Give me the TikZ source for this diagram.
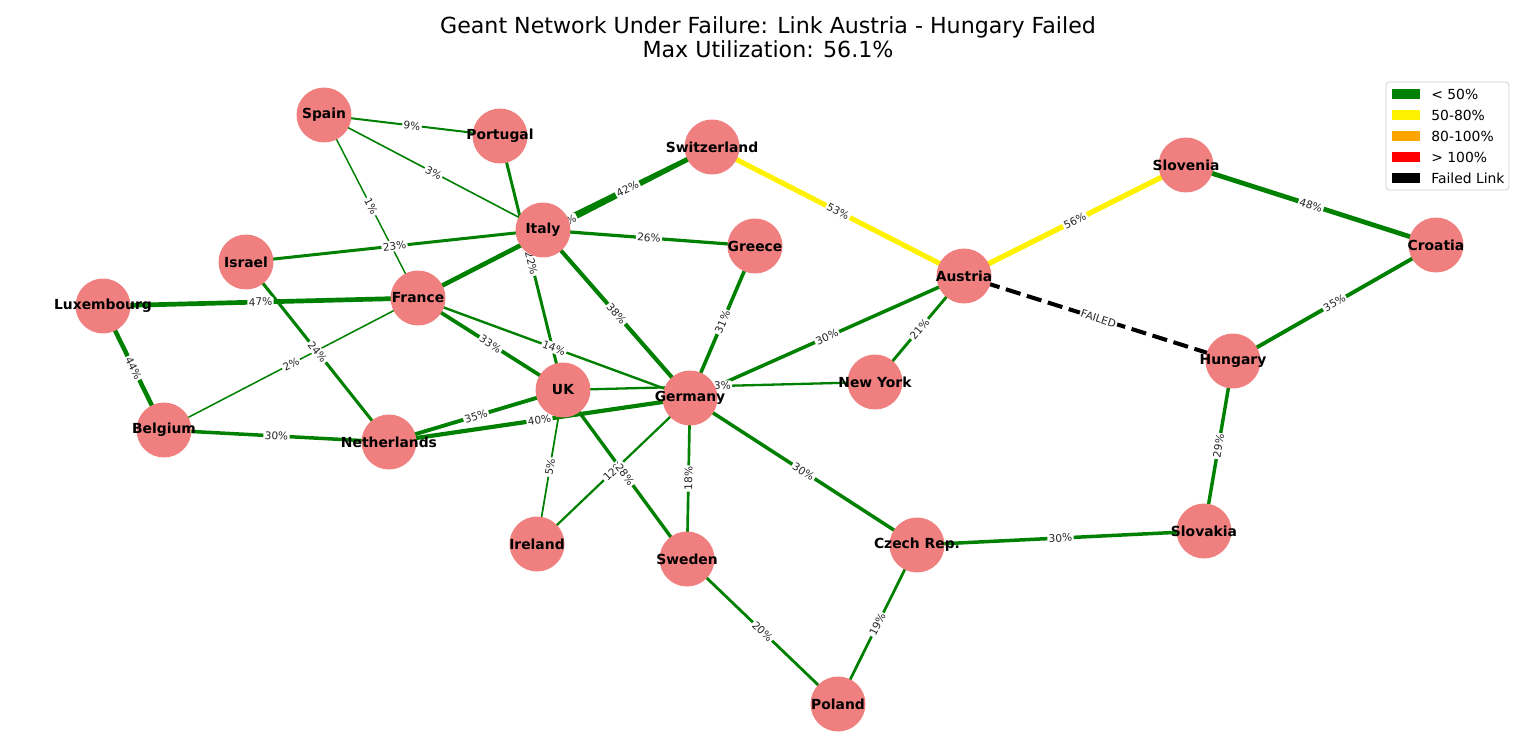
\documentclass[tikz,border=0pt]{standalone}
\usepackage{fontspec}
\setmainfont{DejaVu Sans}

\definecolor{lcoral}{HTML}{F08080}
\definecolor{okgreen}{HTML}{008000}
\definecolor{warnorange}{HTML}{FFA500}

\pgfdeclarelayer{edges}
\pgfdeclarelayer{elabels}
\pgfsetlayers{edges,elabels,main}

% from/to/utilisation/colour
\def\geantlinks{spain/portugal/9/okgreen, spain/italy/3/okgreen, spain/france/1/okgreen,
  portugal/uk/22/okgreen, france/switz/45/okgreen, italy/switz/42/okgreen,
  israel/italy/23/okgreen, italy/greece/26/okgreen, italy/germany/38/okgreen,
  greece/germany/31/okgreen, switz/austria/53/yellow, austria/slovenia/56/yellow,
  slovenia/croatia/48/okgreen, croatia/hungary/35/okgreen, hungary/slovakia/29/okgreen,
  slovakia/czech/30/okgreen, czech/poland/19/okgreen, sweden/poland/20/okgreen,
  germany/czech/30/okgreen, germany/sweden/18/okgreen, germany/austria/30/okgreen,
  austria/ny/21/okgreen, uk/ny/13/okgreen, uk/ireland/5/okgreen, germany/ireland/12/okgreen,
  uk/sweden/28/okgreen, uk/nl/35/okgreen, germany/nl/40/okgreen, france/uk/33/okgreen,
  france/germany/14/okgreen, lux/france/47/okgreen, lux/belgium/44/okgreen,
  belgium/nl/30/okgreen, belgium/france/2/okgreen, israel/nl/24/okgreen}

\begin{document}
\begin{tikzpicture}[x=0.02cm, y=-0.02cm,
    city/.style={circle, fill=lcoral, minimum size=1.1cm, inner sep=0pt},
    cname/.style={font=\fontsize{7.9}{9}\selectfont\bfseries, inner sep=0pt},
    elabel/.style={fill=white, inner sep=0.8pt, rounded corners=1pt, text=black!85,
      font=\fontsize{6}{6.5}\selectfont},
    legtext/.style={anchor=west, inner sep=0pt, font=\fontsize{7.9}{9}\selectfont}]
  \useasboundingbox (0,0) rectangle (1536,754);

  \node[align=center, font=\fontsize{12.6}{13.6}\selectfont] (title) at (768,37)
    {Geant Network Under Failure: Link Austria - Hungary Failed\\Max Utilization: 56.1\%};

  % cities
  \foreach \n/\p/\t in {spain/{324,115}/Spain, portugal/{500,136}/Portugal,
      switz/{712,147}/Switzerland, slovenia/{1186,165}/Slovenia, italy/{543,230}/Italy,
      greece/{755,246}/Greece, croatia/{1436,245}/Croatia, israel/{246,262}/Israel,
      austria/{964,276}/Austria, lux/{103,306}/Luxembourg, france/{418,298}/France,
      hungary/{1233,361}/Hungary, ny/{875,382}/New York, uk/{563,390}/UK,
      germany/{690,398}/Germany, belgium/{164,430}/Belgium, nl/{389,442}/Netherlands,
      slovakia/{1204,531}/Slovakia, czech/{917,545}/Czech Rep., ireland/{537,544}/Ireland,
      sweden/{687,559}/Sweden, poland/{838,704}/Poland}
    \node[city, label={[cname]center:\t}] (\n) at (\p) {};

  % links, then their labels
  \begin{pgfonlayer}{edges}
    \foreach \a/\b/\u/\c in \geantlinks
      \draw[\c, line width={0.79pt+0.04pt*\u}] (\a.center) -- (\b.center);
    \draw[black, line width=2.3pt, dash pattern=on 8.7pt off 3.8pt]
      (austria.center) -- (hungary.center);
  \end{pgfonlayer}
  \begin{pgfonlayer}{elabels}
    \foreach \a/\b/\u/\c in \geantlinks
      \path (\a.center) -- (\b.center) node[elabel, midway, sloped] {\u\%};
    \path (austria.center) -- (hungary.center) node[elabel, midway, sloped] {FAILED};
  \end{pgfonlayer}

  % legend
  \draw[black!20, fill=white, rounded corners=2pt] (1386,82) rectangle (1509,190);
  \foreach \c/\t [count=\i] in {okgreen/{< 50\%}, yellow/{50-80\%}, warnorange/{80-100\%},
      red/{> 100\%}, black/{Failed Link}} {
    \fill[\c] (1392,{68+21*\i}) rectangle ++(28,10);
    \node[legtext] (leg\i) at (1431,{73+21*\i}) {\t};
  }
\end{tikzpicture}
\end{document}
